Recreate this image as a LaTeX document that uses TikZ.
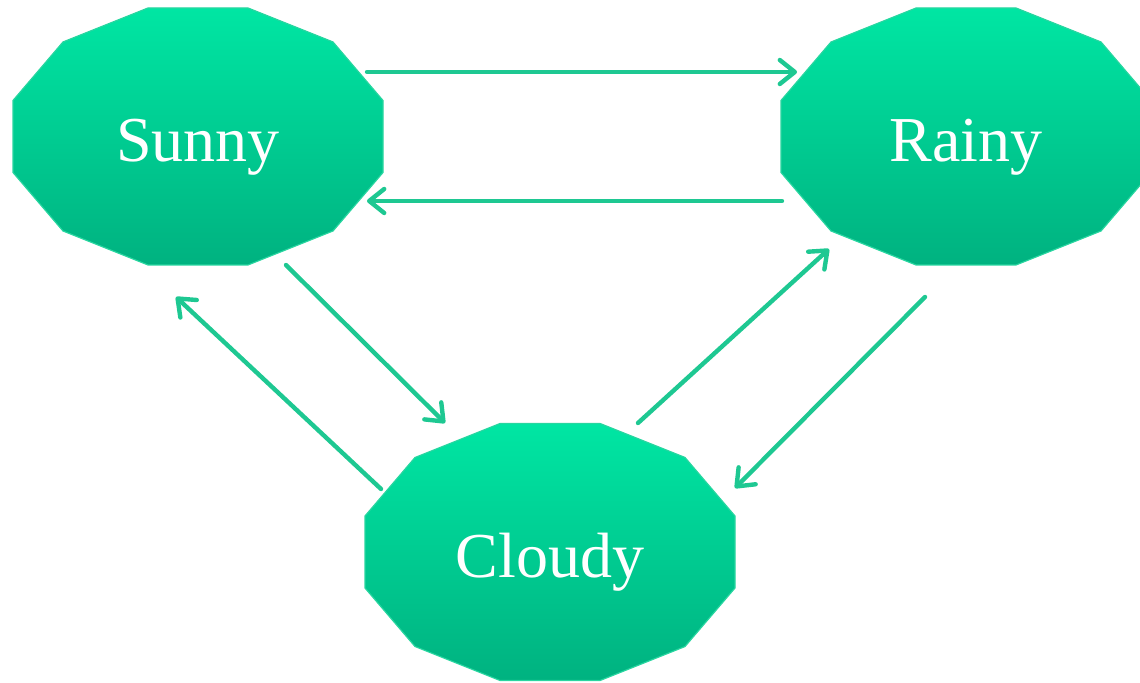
\documentclass[tikz,border=0pt]{standalone}
\usepackage{fontspec}
\setmainfont{Liberation Serif}
\usepackage{tikz}
\usetikzlibrary{calc}
\usetikzlibrary{arrows.meta, backgrounds}
\definecolor{stateTop}{RGB}{0,230,163}
\definecolor{stateBot}{RGB}{0,178,128}
\definecolor{stateRim}{RGB}{40,214,160}
\definecolor{edgeCol}{RGB}{30,200,146}
\tikzset{>={Straight Barb[length=7.5pt,width=12pt,line cap=round,line join=round]}}
\tikzset{
  state/.style={text=white, font=\fontsize{32}{32}\selectfont,
    text height=32pt, text depth=6.5pt, inner sep=0pt},
  statefill/.style={top color=stateTop, bottom color=stateBot, draw=stateRim, line width=0.6pt},
  edge/.style={->, draw=edgeCol, line width=2.2pt, line cap=round}
}

\begin{document}
\begin{tikzpicture}[x=0.5pt, y=-0.5pt]
			\useasboundingbox (0, 0) rectangle (1140, 683);
			\clip (0, 0) rectangle (1140, 683);
			\node [state] (sunny) at (198, 136.5) {Sunny};
			\node [state] (rainy) at (966, 136.5) {Rainy};
			\node [state] (cloudy) at (550, 552) {Cloudy};
			\begin{pgfonlayer}{background}
				\foreach \n in {sunny, rainy, cloudy}
					\shade [statefill] ($(\n)+(-50, -128.5)$) -- ++(100, 0) -- ++(85, 34) -- ++(50, 58.5) -- ++(0, 72)
						-- ++(-50, 58.5) -- ++(-85, 34) -- ++(-100, 0) -- ++(-85, -34) -- ++(-50, -58.5) -- ++(0, -72)
						-- ++(50, -58.5) -- cycle;
			\end{pgfonlayer}
			\draw [edge] ($(sunny)+(169, -64.5)$) -- ($(rainy)+(-169, -64.5)$);
			\draw [edge] ($(rainy)+(-184, 64.5)$) -- ($(sunny)+(169, 64.5)$);
			\draw [edge] ($(sunny)+(88, 128.5)$) -- ($(cloudy)+(-105, -129)$);
			\draw [edge] ($(cloudy)+(-169, -63)$) -- ($(sunny)+(-22, 160.5)$);
			\draw [edge] ($(cloudy)+(88, -129)$) -- ($(rainy)+(-137, 112.5)$);
			\draw [edge] ($(rainy)+(-41, 160.5)$) -- ($(cloudy)+(185, -64)$);
		\end{tikzpicture}
\end{document}
